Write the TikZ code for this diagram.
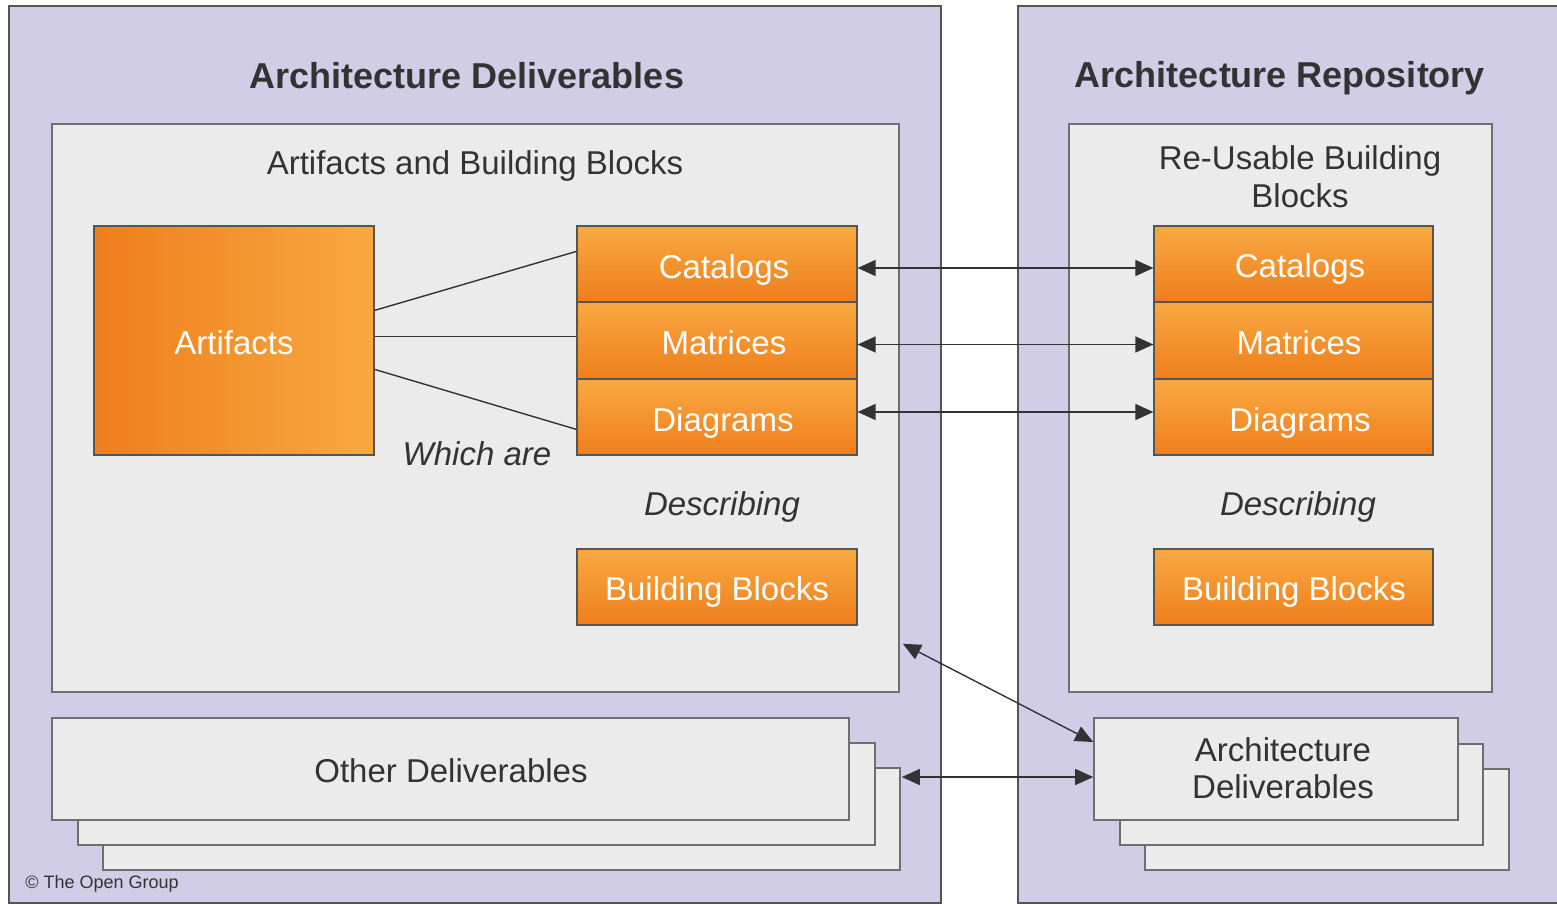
\documentclass[tikz,border=0pt]{standalone}
\usepackage{fontspec}
\setmainfont{Liberation Sans}
\usetikzlibrary{fit,calc,arrows.meta}
\definecolor{panelc}{HTML}{D1CDE6}
\definecolor{boxc}{HTML}{EBEBEB}
\definecolor{otop}{HTML}{F9A941}
\definecolor{obot}{HTML}{EE7E1B}
\definecolor{txt}{HTML}{333333}
\definecolor{edgec}{HTML}{555555}
\begin{document}
\begin{tikzpicture}[x=0.5pt,y=-0.5pt,
  panel/.style={fill=panelc,draw=edgec,line width=0.7pt,inner sep=0pt},
  gbox/.style={fill=boxc,draw=edgec!85,line width=0.8pt,inner sep=0pt},
  obox/.style={top color=otop,bottom color=obot,draw=edgec,line width=0.6pt,inner sep=0pt},
  abox/.style={left color=obot,right color=otop,draw=edgec,line width=0.6pt,inner sep=0pt},
  ttl/.style={anchor=base,inner sep=0pt,text=txt,font=\bfseries\fontsize{18}{21}\selectfont},
  lbl/.style={anchor=base,inner sep=0pt,text=txt,font=\fontsize{16.5}{19}\selectfont},
  otxt/.style={anchor=base,inner sep=0pt,text=white,font=\fontsize{16.5}{19}\selectfont},
  itl/.style={anchor=base,inner sep=0pt,text=txt,font=\itshape\fontsize{16.5}{19}\selectfont},
  link/.style={draw=txt,line width=0.7pt},
  biarrow/.style={draw=txt,line width=0.7pt,{Triangle[length=9pt,width=8pt]}-{Triangle[length=9pt,width=8pt]}}]
\useasboundingbox (0,0) rectangle (1557,905);
% panels
\node[panel,fit={(9,6) (941,903)}] (lp) {};
\node[panel,fit={(1018,6) (1558,903)}] (rp) {};
\node[ttl] (lt) at (467,88) {Architecture Deliverables};
\node[ttl] (rt) at (1280,87) {Architecture Repository};
% inner boxes
\node[gbox,fit={(52,124) (899,692)}] (li) {};
\node[gbox,fit={(1069,124) (1492,692)}] (ri) {};
\node[lbl] (lit) at (475,174) {Artifacts and Building Blocks};
\node[lbl] (rit1) at (1300,169) {Re-Usable Building};
\node[lbl] (rit2) at (1300,207) {Blocks};
% left content
\node[abox,fit={(94,226) (374,455)}] (art) {};
\node[obox,fit={(577,226) (857,302)}] (lcat) {};
\node[obox,fit={(577,302) (857,379)}] (lmat) {};
\node[obox,fit={(577,379) (857,455)}] (ldia) {};
\node[obox,fit={(577,549) (857,625)}] (lbb) {};
\node[otxt] (artt) at (234,354) {Artifacts};
\node[otxt] (lcatt) at (724,278) {Catalogs};
\node[otxt] (lmatt) at (724,354) {Matrices};
\node[otxt] (ldiat) at (723,431) {Diagrams};
\node[otxt] (lbbt) at (717,600) {Building Blocks};
\node[itl] (which) at (477,465) {Which are};
\node[itl] (ldesc) at (722,515) {Describing};
% right content
\node[obox,fit={(1154,226) (1433,302)}] (rcat) {};
\node[obox,fit={(1154,302) (1433,379)}] (rmat) {};
\node[obox,fit={(1154,379) (1433,455)}] (rdia) {};
\node[obox,fit={(1154,549) (1433,625)}] (rbb) {};
\node[otxt] (rcatt) at (1300,277) {Catalogs};
\node[otxt] (rmatt) at (1299,354) {Matrices};
\node[otxt] (rdiat) at (1300,431) {Diagrams};
\node[otxt] (rbbt) at (1294,600) {Building Blocks};
\node[itl] (rdesc) at (1298,515) {Describing};
% stacks
\node[gbox,fit={(103,768) (900,870)}] (od3) {};
\node[gbox,fit={(78,743) (875,845)}] (od2) {};
\node[gbox,fit={(52,718) (849,820)}] (od1) {};
\node[lbl] (odt) at (451,782) {Other Deliverables};
\node[gbox,fit={(1145,769) (1509,870)}] (rd3) {};
\node[gbox,fit={(1120,744) (1483,845)}] (rd2) {};
\node[gbox,fit={(1094,718) (1458,820)}] (rd1) {};
\node[lbl] (rdt1) at (1283,761) {Architecture};
\node[lbl] (rdt2) at (1283,798) {Deliverables};
% artifacts links
\draw[link] ($(art.north east)+(0,85)$) -- ($(lcat.north west)+(0,26)$);
\draw[link] ($(art.north east)+(0,111)$) -- ($(lmat.north west)+(0,35)$);
\draw[link] ($(art.north east)+(0,144)$) -- ($(ldia.north west)+(0,51)$);
% arrows
\draw[biarrow] ($(lcat.east)+(0,4)$) -- ($(rcat.west)+(0,4)$);
\draw[biarrow] ($(lmat.east)+(0,4)$) -- ($(rmat.west)+(0,4)$);
\draw[biarrow] ($(ldia.east)+(0,-5)$) -- ($(rdia.west)+(0,-5)$);
\draw[biarrow] ($(li.south east)+(3,-49)$) -- ($(rd1.west)+(0,-27)$);
\draw[biarrow] ($(od3.east)+(1,-42)$) -- ($(rd1.west)+(0,8)$);
% copyright
\node[anchor=base west,text=txt,font=\fontsize{9}{11}\selectfont,inner sep=0pt] (copy) at (25,888) {\textcopyright{} The Open Group};
\end{tikzpicture}
\end{document}
